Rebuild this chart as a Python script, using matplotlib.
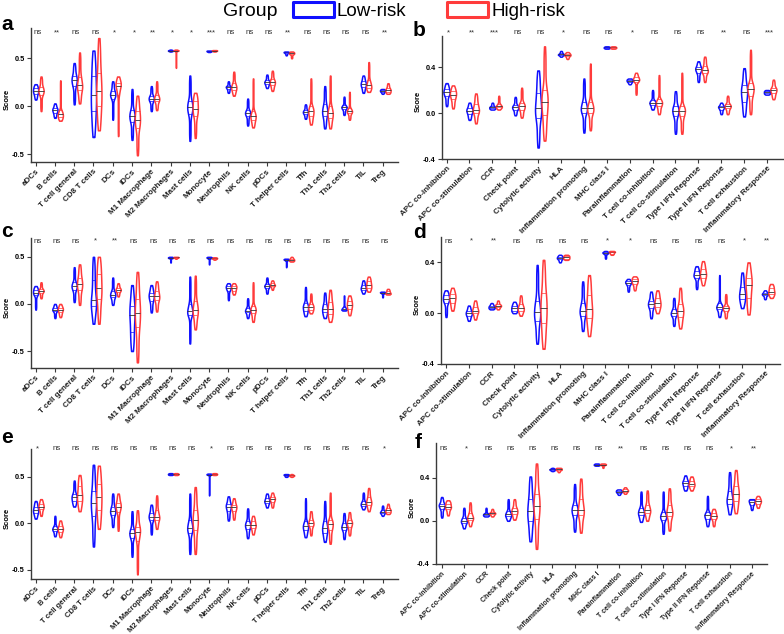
"""
Immune cell / immune function scores, Low-risk vs High-risk (violin panels a-f)
"""
import numpy as np
import matplotlib
matplotlib.use('Agg')
import matplotlib.pyplot as plt
from matplotlib.patches import Rectangle

plt.rcParams['font.family'] = ['Liberation Sans', 'DejaVu Sans']

# ============================== 数据 ==============================
cells = ['aDCs', 'B cells', 'T cell general', 'CD8 T cells', 'DCs', 'iDCs',
         'M1 Macrophage', 'M2 Macrophages', 'Mast cells', 'Monocyte',
         'Neutrophils', 'NK cells', 'pDCs', 'T helper cells', 'Tfh',
         'Th1 cells', 'Th2 cells', 'TIL', 'Treg']
funcs = ['APC co-inhibition', 'APC co-stimulation', 'CCR', 'Check point',
         'Cytolytic activity', 'HLA', 'Inflammation promoting', 'MHC class I',
         'Parainflammation', 'T cell co-inhibition', 'T cell co-stimulation',
         'Type I IFN Reponse', 'Type II IFN Reponse', 'T cell exhaustion',
         'Inflammatory Response']

# 每个小提琴: (min, q1, median, q3, max)
a_low = [(0.07, 0.13, 0.16, 0.19, 0.23), (-0.12, -0.07, -0.04, -0.02, 0.03),
         (0.02, 0.21, 0.27, 0.32, 0.45), (-0.32, -0.05, 0.12, 0.32, 0.58),
         (-0.14, 0.08, 0.12, 0.16, 0.26), (-0.35, -0.16, -0.10, -0.04, 0.18),
         (-0.05, 0.05, 0.08, 0.11, 0.21), (0.57, 0.577, 0.58, 0.583, 0.59),
         (-0.36, -0.08, -0.01, 0.06, 0.32), (0.565, 0.570, 0.575, 0.578, 0.58),
         (0.14, 0.18, 0.20, 0.21, 0.26), (-0.20, -0.10, -0.07, -0.04, 0.08),
         (0.19, 0.23, 0.25, 0.27, 0.33), (0.53, 0.55, 0.56, 0.565, 0.57),
         (-0.13, -0.08, -0.06, -0.04, 0.02), (-0.23, -0.10, -0.05, 0.02, 0.21),
         (-0.09, -0.03, -0.01, 0.01, 0.10), (0.14, 0.20, 0.23, 0.26, 0.32),
         (0.13, 0.15, 0.16, 0.17, 0.18)]
a_high = [(-0.05, 0.12, 0.16, 0.20, 0.31), (-0.15, -0.11, -0.08, -0.04, 0.27),
          (0.03, 0.17, 0.22, 0.31, 0.56), (-0.25, 0.00, 0.16, 0.35, 0.71),
          (-0.31, 0.12, 0.21, 0.24, 0.31), (-0.51, -0.23, -0.14, -0.05, 0.11),
          (-0.04, 0.05, 0.08, 0.12, 0.26), (0.40, 0.577, 0.58, 0.583, 0.59),
          (-0.33, -0.10, -0.03, 0.05, 0.14), (0.57, 0.575, 0.58, 0.583, 0.585),
          (0.11, 0.17, 0.20, 0.24, 0.36), (-0.22, -0.14, -0.10, -0.05, 0.29),
          (0.16, 0.22, 0.25, 0.28, 0.37), (0.50, 0.54, 0.55, 0.56, 0.57),
          (-0.19, -0.10, -0.05, 0.00, 0.29), (-0.23, -0.12, -0.07, 0.00, 0.32),
          (-0.14, -0.07, -0.05, -0.02, 0.15), (0.15, 0.19, 0.22, 0.27, 0.46),
          (0.13, 0.15, 0.17, 0.19, 0.24)]
a_sig = ['ns', '**', 'ns', 'ns', '*', '*', '**', '*', '*', '***',
         'ns', 'ns', 'ns', '**', 'ns', 'ns', 'ns', 'ns', '**']

b_low = [(0.06, 0.15, 0.18, 0.21, 0.26), (-0.06, -0.01, 0.02, 0.04, 0.09),
         (0.03, 0.04, 0.05, 0.06, 0.09), (-0.02, 0.03, 0.05, 0.07, 0.14),
         (-0.30, -0.04, 0.04, 0.17, 0.37), (0.49, 0.505, 0.51, 0.52, 0.54),
         (-0.17, 0.00, 0.04, 0.10, 0.30), (0.56, 0.565, 0.57, 0.575, 0.58),
         (0.25, 0.27, 0.28, 0.29, 0.30), (0.03, 0.07, 0.09, 0.11, 0.20),
         (-0.18, -0.03, 0.02, 0.06, 0.19), (0.27, 0.35, 0.38, 0.40, 0.45),
         (-0.01, 0.03, 0.05, 0.06, 0.09), (-0.03, 0.10, 0.18, 0.24, 0.39),
         (0.16, 0.17, 0.18, 0.19, 0.20)]
b_high = [(0.04, 0.12, 0.16, 0.19, 0.24), (-0.09, 0.00, 0.03, 0.08, 0.17),
          (0.03, 0.05, 0.06, 0.08, 0.15), (-0.04, 0.03, 0.06, 0.09, 0.22),
          (-0.24, -0.02, 0.10, 0.20, 0.58), (0.47, 0.495, 0.505, 0.515, 0.53),
          (-0.15, 0.00, 0.04, 0.10, 0.43), (0.56, 0.565, 0.57, 0.575, 0.58),
          (0.16, 0.27, 0.29, 0.31, 0.35), (-0.01, 0.06, 0.09, 0.12, 0.33),
          (-0.18, -0.03, 0.02, 0.06, 0.35), (0.27, 0.35, 0.37, 0.41, 0.49),
          (-0.01, 0.04, 0.06, 0.08, 0.15), (-0.01, 0.15, 0.21, 0.26, 0.55),
          (0.12, 0.17, 0.20, 0.22, 0.29)]
b_sig = ['*', '**', '***', 'ns', 'ns', '*', 'ns', 'ns', '*', 'ns',
         'ns', 'ns', '**', 'ns', '***']

c_low = [(-0.06, 0.09, 0.12, 0.15, 0.19), (-0.15, -0.08, -0.06, -0.04, 0.00),
         (0.02, 0.15, 0.19, 0.23, 0.39), (-0.21, -0.02, 0.04, 0.25, 0.50),
         (-0.01, 0.07, 0.10, 0.14, 0.28), (-0.50, -0.30, -0.12, -0.02, 0.20),
         (-0.09, 0.03, 0.08, 0.12, 0.20), (0.44, 0.485, 0.49, 0.495, 0.50),
         (-0.42, -0.12, -0.08, 0.00, 0.29), (0.42, 0.48, 0.49, 0.495, 0.50),
         (0.04, 0.14, 0.17, 0.19, 0.22), (-0.15, -0.09, -0.07, -0.04, 0.06),
         (0.11, 0.17, 0.19, 0.21, 0.28), (0.39, 0.46, 0.47, 0.475, 0.48),
         (-0.13, -0.07, -0.03, 0.01, 0.18), (-0.15, -0.09, -0.05, 0.00, 0.12),
         (-0.07, -0.06, -0.05, -0.03, 0.09), (0.11, 0.15, 0.17, 0.20, 0.25),
         (0.07, 0.11, 0.12, 0.125, 0.13)]
c_high = [(0.06, 0.12, 0.14, 0.16, 0.23), (-0.14, -0.09, -0.06, -0.04, 0.00),
          (-0.01, 0.15, 0.21, 0.28, 0.42), (-0.21, 0.05, 0.17, 0.32, 0.50),
          (0.08, 0.13, 0.15, 0.17, 0.22), (-0.62, -0.25, -0.10, 0.05, 0.34),
          (-0.08, 0.04, 0.08, 0.14, 0.24), (0.48, 0.49, 0.495, 0.497, 0.50),
          (-0.27, -0.12, -0.06, 0.03, 0.30), (0.47, 0.48, 0.485, 0.49, 0.495),
          (0.10, 0.14, 0.17, 0.19, 0.22), (-0.19, -0.10, -0.06, -0.02, 0.23),
          (0.15, 0.19, 0.20, 0.22, 0.25), (0.45, 0.46, 0.47, 0.48, 0.50),
          (-0.10, -0.06, -0.03, 0.00, 0.11), (-0.19, -0.11, -0.05, 0.02, 0.15),
          (-0.12, -0.05, -0.01, 0.03, 0.09), (0.13, 0.17, 0.20, 0.24, 0.29),
          (0.10, 0.11, 0.12, 0.14, 0.16)]
c_sig = ['ns', 'ns', 'ns', '*', '**', 'ns', 'ns', 'ns', 'ns', 'ns',
         'ns', 'ns', 'ns', 'ns', 'ns', 'ns', 'ns', 'ns', 'ns']

d_low = [(-0.03, 0.08, 0.11, 0.14, 0.18), (-0.06, -0.02, 0.00, 0.02, 0.06),
         (0.03, 0.04, 0.05, 0.06, 0.08), (0.00, 0.02, 0.04, 0.06, 0.09),
         (-0.24, -0.06, 0.01, 0.10, 0.38), (0.40, 0.425, 0.435, 0.445, 0.46),
         (-0.14, -0.02, 0.02, 0.08, 0.25), (0.43, 0.465, 0.475, 0.48, 0.49),
         (0.17, 0.22, 0.24, 0.25, 0.27), (-0.04, 0.04, 0.07, 0.10, 0.17),
         (-0.10, -0.02, 0.00, 0.03, 0.12), (0.19, 0.28, 0.30, 0.33, 0.37),
         (-0.03, 0.03, 0.05, 0.08, 0.30), (0.04, 0.11, 0.15, 0.21, 0.32),
         (0.11, 0.14, 0.15, 0.16, 0.18)]
d_high = [(0.02, 0.08, 0.12, 0.15, 0.20), (-0.05, 0.00, 0.02, 0.05, 0.10),
          (0.03, 0.05, 0.06, 0.07, 0.10), (-0.02, 0.02, 0.04, 0.07, 0.14),
          (-0.28, -0.08, 0.04, 0.16, 0.42), (0.42, 0.43, 0.44, 0.45, 0.46),
          (-0.18, -0.04, 0.03, 0.14, 0.30), (0.46, 0.47, 0.48, 0.485, 0.49),
          (0.18, 0.23, 0.25, 0.27, 0.29), (0.00, 0.05, 0.08, 0.12, 0.18),
          (-0.12, -0.03, 0.02, 0.07, 0.20), (0.22, 0.28, 0.31, 0.35, 0.41),
          (-0.04, 0.02, 0.04, 0.06, 0.15), (-0.01, 0.12, 0.22, 0.28, 0.40),
          (0.12, 0.15, 0.17, 0.20, 0.23)]
d_sig = ['ns', '*', '**', 'ns', 'ns', 'ns', 'ns', '*', '*', 'ns',
         'ns', 'ns', 'ns', '*', '**']

e_low = [(0.05, 0.11, 0.14, 0.18, 0.24), (-0.14, -0.08, -0.06, -0.03, 0.08),
         (0.18, 0.24, 0.28, 0.32, 0.46), (-0.25, 0.08, 0.22, 0.35, 0.63),
         (-0.04, 0.09, 0.13, 0.18, 0.32), (-0.36, -0.16, -0.11, -0.06, 0.13),
         (-0.12, 0.03, 0.07, 0.11, 0.20), (0.52, 0.525, 0.53, 0.535, 0.54),
         (-0.33, -0.10, -0.05, 0.03, 0.32), (0.30, 0.52, 0.525, 0.53, 0.535),
         (0.03, 0.13, 0.18, 0.21, 0.29), (-0.16, -0.06, -0.02, 0.02, 0.16),
         (0.17, 0.22, 0.24, 0.27, 0.32), (0.50, 0.51, 0.52, 0.525, 0.53),
         (-0.15, -0.07, -0.03, 0.02, 0.27), (-0.20, -0.10, -0.05, 0.02, 0.24),
         (-0.17, -0.07, -0.04, 0.00, 0.11), (0.15, 0.19, 0.21, 0.24, 0.33),
         (0.08, 0.11, 0.12, 0.14, 0.19)]
e_high = [(0.08, 0.15, 0.18, 0.21, 0.26), (-0.15, -0.09, -0.06, -0.03, 0.03),
          (0.13, 0.24, 0.30, 0.40, 0.52), (-0.06, 0.14, 0.28, 0.42, 0.62),
          (-0.08, 0.12, 0.18, 0.22, 0.32), (-0.55, -0.19, -0.09, -0.04, 0.14),
          (-0.06, 0.04, 0.07, 0.14, 0.30), (0.52, 0.525, 0.53, 0.535, 0.54),
          (-0.33, -0.07, 0.03, 0.14, 0.39), (0.52, 0.525, 0.53, 0.535, 0.54),
          (0.04, 0.13, 0.17, 0.20, 0.27), (-0.12, -0.05, -0.02, 0.02, 0.08),
          (0.17, 0.23, 0.26, 0.28, 0.33), (0.50, 0.51, 0.515, 0.52, 0.53),
          (-0.13, -0.03, 0.00, 0.04, 0.13), (-0.22, -0.07, -0.01, 0.04, 0.33),
          (-0.13, -0.04, 0.00, 0.03, 0.12), (0.13, 0.20, 0.23, 0.28, 0.38),
          (0.10, 0.12, 0.14, 0.16, 0.21)]
e_sig = ['*', 'ns', 'ns', 'ns', 'ns', 'ns', 'ns', 'ns', 'ns', '*',
         'ns', 'ns', 'ns', 'ns', 'ns', 'ns', 'ns', 'ns', '*']

f_low = [(0.03, 0.11, 0.14, 0.16, 0.22), (-0.07, -0.02, 0.00, 0.03, 0.12),
         (0.04, 0.05, 0.06, 0.07, 0.12), (0.00, 0.04, 0.06, 0.09, 0.20),
         (-0.19, 0.00, 0.09, 0.20, 0.41), (0.46, 0.47, 0.475, 0.48, 0.49),
         (-0.10, 0.05, 0.10, 0.15, 0.34), (0.51, 0.515, 0.52, 0.525, 0.53),
         (0.24, 0.26, 0.27, 0.28, 0.29), (-0.01, 0.05, 0.08, 0.12, 0.27),
         (-0.12, 0.01, 0.04, 0.08, 0.27), (0.28, 0.32, 0.35, 0.37, 0.42),
         (-0.05, 0.02, 0.05, 0.08, 0.23), (0.06, 0.16, 0.20, 0.28, 0.45),
         (0.10, 0.15, 0.17, 0.19, 0.20)]
f_high = [(0.05, 0.11, 0.13, 0.16, 0.19), (-0.05, 0.01, 0.03, 0.07, 0.17),
          (0.04, 0.06, 0.07, 0.08, 0.11), (0.01, 0.06, 0.09, 0.12, 0.20),
          (-0.26, 0.02, 0.14, 0.25, 0.53), (0.45, 0.47, 0.475, 0.485, 0.49),
          (-0.11, 0.05, 0.10, 0.20, 0.39), (0.49, 0.515, 0.52, 0.525, 0.53),
          (0.25, 0.27, 0.28, 0.29, 0.31), (0.00, 0.07, 0.10, 0.15, 0.28),
          (-0.09, 0.04, 0.08, 0.15, 0.30), (0.28, 0.32, 0.34, 0.37, 0.41),
          (-0.05, 0.02, 0.04, 0.07, 0.11), (0.07, 0.18, 0.25, 0.32, 0.47),
          (0.12, 0.16, 0.18, 0.20, 0.23)]
f_sig = ['ns', '*', 'ns', 'ns', 'ns', 'ns', 'ns', 'ns', '**', 'ns',
         'ns', 'ns', 'ns', '*', '**']

LOW_COLOR = '#1010ff'
HIGH_COLOR = '#ff3b3b'
AX_COLOR = '#3a3a3a'
W, H = 784, 634


# ============================== 绘图函数 ==============================
def violin_stats(s, n=240):
    """由五数概括构造小提琴密度"""
    mn, q1, md, q3, mx = s
    y = np.linspace(mn, mx, n)
    knots = [mn, q1, md, q3, mx]
    dens = np.zeros(n)
    for lo, hi in zip(knots[:-1], knots[1:]):
        sel = (y >= lo) & (y <= hi)
        dens[sel] = np.maximum(dens[sel], 0.25 / max(hi - lo, 1e-3))
    step = (mx - mn) / (n - 1)
    sigma = max(0.3 * (q3 - q1), 0.004) / step
    half = int(min(3 * sigma, n // 2 - 1))
    k = np.exp(-0.5 * (np.arange(-half, half + 1) / sigma) ** 2)
    dens = np.convolve(dens, k / k.sum(), mode='same')
    return dict(coords=y, vals=dens, mean=md, median=md, min=mn, max=mx)


def draw_panel(ax, labels, low, high, sig, sig_y, ylim, yticks, xlim, label_size=5.8):
    width = 0.27
    for data, color, off in [(low, LOW_COLOR, 0.0), (high, HIGH_COLOR, 0.28)]:
        stats = [violin_stats(s) for s in data]
        pos = np.arange(len(data)) + off
        parts = ax.violin(stats, positions=pos, widths=width, showextrema=False)
        for body in parts['bodies']:
            body.set_facecolor('white')
            body.set_edgecolor(color)
            body.set_linewidth(1.1)
            body.set_alpha(1)
        # 中位数与四分位线
        for p, st, s in zip(pos, stats, data):
            vmax = st['vals'].max()
            for q, c, lw in [(s[1], color, 0.5), (s[2], '#333333', 0.6), (s[3], color, 0.5)]:
                hw = np.interp(q, st['coords'], st['vals']) / vmax * width / 2
                ax.plot([p - hw, p + hw], [q, q], color=c, lw=lw, solid_capstyle='butt')

    # 显著性标记
    for i, t in enumerate(sig):
        ax.annotate(t, xy=(i + 0.1, 1 - sig_y / H), xycoords=(ax.transData, fig.transFigure),
                    ha='center', va='center', fontsize=5.7, color='#333333')

    ax.set_xlim(*xlim)
    ax.set_ylim(*ylim)
    ax.set_yticks(yticks)
    ax.set_yticklabels([f'{v:.1f}' for v in yticks], fontsize=5.3, fontweight='bold')
    ax.set_xticks(np.arange(len(labels)))
    ax.set_xticklabels(labels, rotation=45, ha='right', rotation_mode='anchor',
                       fontsize=label_size, fontweight='bold', color='#222222')
    ax.tick_params(axis='both', direction='out', length=3, width=0.8,
                   color=AX_COLOR, pad=1.5)
    for side in ['top', 'right']:
        ax.spines[side].set_visible(False)
    for side in ['left', 'bottom']:
        ax.spines[side].set_color(AX_COLOR)
        ax.spines[side].set_linewidth(1.0)
    ax.set_ylabel('Score', fontsize=5.5, fontweight='bold')
    bbox = ax.get_position()
    ax.yaxis.set_label_coords(-20 / (bbox.width * W), 0.47)


fig = plt.figure(figsize=(W / 100, H / 100), dpi=100)


def add_axes(x0, x1, y0, y1):
    return fig.add_axes([x0 / W, 1 - y1 / H, (x1 - x0) / W, (y1 - y0) / H])


ax_a = add_axes(31, 398, 28, 162)
ax_b = add_axes(442, 783, 36, 159)
ax_c = add_axes(31, 398, 238, 368)
ax_d = add_axes(441, 780, 237, 364)
ax_e = add_axes(31, 398, 449, 579)
ax_f = add_axes(436, 767, 443, 564)

draw_panel(ax_a, cells, a_low, a_high, a_sig, 33, (-0.58, 0.815), [-0.5, 0.0, 0.5], (-0.24, 18.8))
draw_panel(ax_b, funcs, b_low, b_high, b_sig, 33, (-0.4, 0.67), [-0.4, 0.0, 0.4], (-0.2, 14.7))
draw_panel(ax_c, cells, c_low, c_high, c_sig, 241, (-0.68, 0.7), [-0.5, 0.0, 0.5], (-0.24, 18.8))
draw_panel(ax_d, funcs, d_low, d_high, d_sig, 241, (-0.4, 0.6), [-0.4, 0.0, 0.4], (-0.22, 14.66))
draw_panel(ax_e, cells, e_low, e_high, e_sig, 449, (-0.6, 0.8), [-0.5, 0.0, 0.5], (-0.24, 18.8),
           label_size=5.5)
draw_panel(ax_f, funcs, f_low, f_high, f_sig, 449, (-0.4, 0.72), [-0.4, 0.0, 0.4], (-0.26, 14.69),
           label_size=5.0)

# 面板字母
for letter, x, y in [('a', 1, 30), ('b', 413, 36), ('c', 1, 237),
                     ('d', 413, 238), ('e', 1, 443), ('f', 415, 448)]:
    fig.text(x / W, 1 - y / H, letter, fontsize=15, fontweight='bold',
             ha='left', va='baseline')

# 图例
fig.text(223 / W, 1 - 15.5 / H, 'Group', fontsize=14, ha='left', va='baseline')
for x0, color, label in [(293, LOW_COLOR, 'Low-risk'), (447, HIGH_COLOR, 'High-risk')]:
    fig.patches.append(Rectangle((x0 / W, 1 - 17 / H), 41 / W, 15 / H,
                                 transform=fig.transFigure, facecolor='white',
                                 edgecolor=color, linewidth=2.2, joinstyle='round'))
    fig.text((x0 + 44) / W, 1 - 16 / H, label, fontsize=13.5, ha='left', va='baseline')

fig.savefig('out.png', dpi=100)
